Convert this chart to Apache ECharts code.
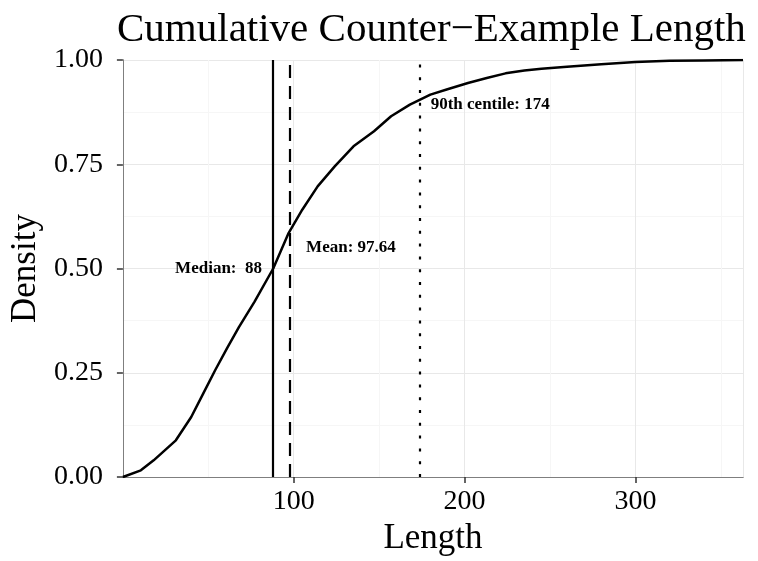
<!DOCTYPE html>
<html>
<head>
<meta charset="utf-8">
<script src="https://cdn.jsdelivr.net/npm/echarts@6/dist/echarts.min.js"></script>
<style>html,body{margin:0;padding:0;background:#fff}#c{width:758px;height:561px}</style>
</head>
<body>
<div id="c"></div>
<script>
// ECDF curve
var lengths = [0, 10.5, 18, 31, 40, 47, 54, 61, 68, 77, 88, 97, 105, 114, 124, 135, 147, 157, 168, 180, 190, 202, 213, 224, 235, 245, 260, 280, 300, 320, 340, 363];
var density = [0, 0.016, 0.04, 0.088, 0.144, 0.2, 0.256, 0.309, 0.36, 0.42, 0.5, 0.585, 0.641, 0.697, 0.745, 0.793, 0.829, 0.865, 0.893, 0.917, 0.93, 0.945, 0.957, 0.968, 0.975, 0.979, 0.984, 0.99, 0.995, 0.998, 0.999, 1.0];
// summary statistics (vertical lines)
var statNames = ['median', 'mean', 'p90'];
var statValues = [88, 97.64, 174];
// annotation labels
var annoText = ['Median:  88', 'Mean: 97.64', '90th centile: 174'];
var annoX = [56, 133.5, 215];
var annoY = [0.5, 0.55, 0.892];
var xTicks = [100, 200, 300];
var yTicks = [0, 0.25, 0.5, 0.75, 1];

var serif = '"Liberation Serif", "Times New Roman", serif';
var major = '#e8e8e8', minor = '#f6f6f6', border = '#7f7f7f';
var dashes = ['solid', [13, 8], [3, 9.8]];

var curve = lengths.map(function (v, i) { return [v, density[i]]; });

var chart = echarts.init(document.getElementById('c'), null, {renderer: 'canvas'});
chart.setOption({
  animation: false,
  backgroundColor: '#ffffff',
  title: {
    text: 'Cumulative Counter\u2212Example Length',
    left: 112, top: 5,
    textStyle: {fontFamily: serif, fontSize: 41, fontWeight: 'normal', color: '#000'}
  },
  grid: {left: 122, right: 15, top: 60, bottom: 84, containLabel: false},
  xAxis: [{
    type: 'value', min: 0, max: 363, interval: 100,
    name: 'Length', nameLocation: 'middle', nameGap: 41,
    nameTextStyle: {fontFamily: serif, fontSize: 35, color: '#000'},
    axisLine: {show: true, lineStyle: {color: border, width: 1}},
    axisTick: {show: true, length: 6, customValues: xTicks, lineStyle: {color: '#333', width: 1.5}},
    axisLabel: {show: true, customValues: xTicks, margin: 11, fontFamily: serif, fontSize: 28, color: '#000'},
    splitLine: {show: false}
  }, {
    type: 'value', min: 0, max: 363, interval: 50, position: 'top',
    axisLine: {show: true, lineStyle: {color: border, width: 1}},
    axisTick: {show: false}, axisLabel: {show: false},
    splitLine: {show: true, lineStyle: {color: [major, minor], width: 1}}
  }],
  yAxis: [{
    type: 'value', min: 0, max: 1, interval: 0.25,
    name: 'Density', nameLocation: 'middle', nameGap: 75, nameRotate: 90,
    nameTextStyle: {fontFamily: serif, fontSize: 35, color: '#000'},
    axisLine: {show: true, lineStyle: {color: border, width: 1}},
    axisTick: {show: true, length: 6, customValues: yTicks, lineStyle: {color: '#333', width: 1.5}},
    axisLabel: {show: true, customValues: yTicks, margin: 20, fontFamily: serif, fontSize: 28, color: '#000',
      formatter: function (v) { return Number(v).toFixed(2); }},
    splitLine: {show: false}
  }, {
    type: 'value', min: 0, max: 1, interval: 0.125, position: 'right',
    axisLine: {show: true, lineStyle: {color: border, width: 1}},
    axisTick: {show: false}, axisLabel: {show: false},
    splitLine: {show: true, lineStyle: {color: [major, minor], width: 1}}
  }],
  series: [{
    type: 'line', xAxisIndex: 0, yAxisIndex: 0,
    data: curve, showSymbol: false, symbol: 'none', smooth: false,
    lineStyle: {color: '#000', width: 2.5},
    z: 5,
    markLine: {
      silent: true, symbol: ['none', 'none'], label: {show: false},
      data: statValues.map(function (v, i) {
        return {name: statNames[i], xAxis: v, lineStyle: {color: '#000', width: 2.2, type: dashes[i]}};
      })
    }
  }, {
    type: 'scatter', xAxisIndex: 0, yAxisIndex: 0,
    symbolSize: 0, silent: true, z: 6,
    itemStyle: {opacity: 1},
    data: annoX.map(function (v, i) { return {value: [v, annoY[i]], label: {formatter: annoText[i]}}; }),
    label: {show: true, position: 'inside', opacity: 1, fontFamily: serif, fontSize: 17, fontWeight: 'bold', color: '#000'}
  }]
});
</script>
</body>
</html>
